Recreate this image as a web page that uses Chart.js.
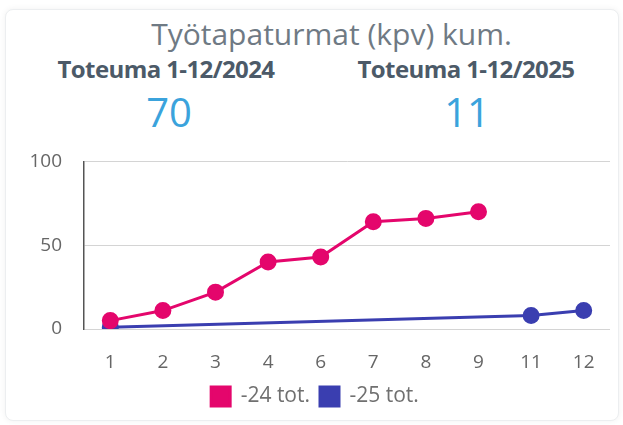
<!DOCTYPE html>
<html>
<head>
<meta charset="utf-8">
<script src="https://cdn.jsdelivr.net/npm/chart.js@4"></script>
<style>
  body { margin:0; background:#fff; font-family:"Open Sans", sans-serif; overflow:hidden; }
  .card { position:absolute; left:5px; top:9px; width:612px; height:410px; border:1px solid #eceef0; border-radius:8px; box-shadow:0 0 6px rgba(0,0,0,0.06); background:#fff; }
  .title { position:absolute; left:20px; width:623px; top:14px; text-align:center; font-size:30px; line-height:40px; color:#6f7a84; }
  .sub { position:absolute; top:53px; width:300px; text-align:center; font-size:24px; line-height:32px; font-weight:700; color:#4c5a68; letter-spacing:-0.6px; }
  .big { position:absolute; top:88px; width:300px; text-align:center; font-size:40px; line-height:48px; color:#3ba3dc; }
  #wrap { position:absolute; left:0; top:128px; width:623px; height:289px; }
</style>
</head>
<body>
<div class="card"></div>
<div class="title">Työtapaturmat (kpv) kum.</div>
<div class="sub" style="left:16px">Toteuma 1-12/2024</div>
<div class="sub" style="left:316px">Toteuma 1-12/2025</div>
<div class="big" style="left:19px">70</div>
<div class="big" style="left:317px">11</div>
<div id="wrap"><canvas id="c"></canvas></div>
<script>
// months with data
const categories = ["1","2","3","4","6","7","8","9","11","12"];
const tot24 = [5, 11, 22, 40, 43, 64, 66, 70, null, null];
const tot25 = [1, null, null, null, null, null, null, null, 8, 11];
const yTicks = [0, 50, 100];

const pink = "#e4066c", blue = "#3a3eb0";
const tickFont = { family: "Open Sans", size: 19 };

new Chart(document.getElementById("c"), {
  type: "line",
  data: {
    labels: categories,
    datasets: [
      { label: "-24 tot.", data: tot24, borderColor: pink, backgroundColor: pink,
        borderWidth: 3, pointRadius: 7, pointHoverRadius: 7, tension: 0 },
      { label: "-25 tot.", data: tot25, borderColor: blue, backgroundColor: blue,
        borderWidth: 3, pointRadius: 7, pointHoverRadius: 7, tension: 0, spanGaps: true }
    ]
  },
  options: {
    responsive: true, maintainAspectRatio: false, animation: false,
    layout: { padding: { left: 20, right: 13, top: 0, bottom: 0 } },
    plugins: {
      legend: { position: "bottom",
        labels: { boxWidth: 19, boxHeight: 19, padding: 10, color: "#707070",
          font: { family: "Open Sans", size: 21 } } },
      tooltip: { enabled: false }
    },
    scales: {
      x: { offset: true, grid: { display: false, drawTicks: false }, border: { display: false },
        afterFit: ax => { ax.height = 47; },
        ticks: { color: "#666", padding: 22, font: tickFont } },
      y: { min: 0, max: 100, afterBuildTicks: ax => { ax.ticks = yTicks.map(v => ({ value: v })); },
        afterFit: ax => { ax.width = 64; },
        grid: { color: "#d4d4d4", drawTicks: false }, border: { display: true, color: "#555", width: 1.5 },
        ticks: { color: "#666", padding: 22, font: tickFont } }
    }
  }
});
</script>
</body>
</html>
